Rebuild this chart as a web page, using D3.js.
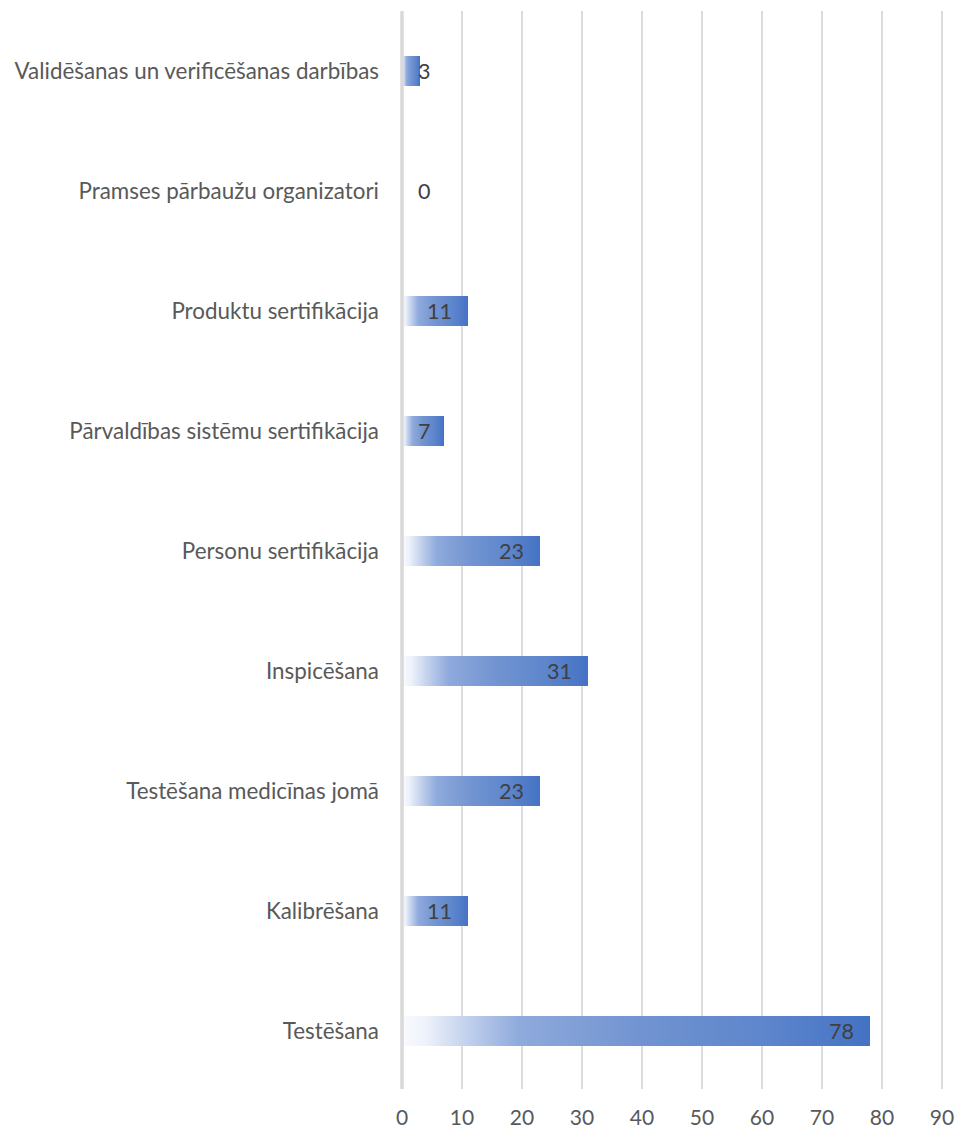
<!DOCTYPE html>
<html>
<head>
<meta charset="utf-8">
<script src="https://cdn.jsdelivr.net/npm/d3@7"></script>
<style>
  body { margin: 0; background: #fff; }
  text { font-family: Lato, "Open Sans", sans-serif; }
</style>
</head>
<body>
<div id="chart"></div>
<script>

var categories = [
	"Validēšanas un verificēšanas darbības",
	"Pramses pārbaužu organizatori",
	"Produktu sertifikācija",
	"Pārvaldības sistēmu sertifikācija",
	"Personu sertifikācija",
	"Inspicēšana",
	"Testēšana medicīnas jomā",
	"Kalibrēšana",
	"Testēšana"
];
var values = [3, 0, 11, 7, 23, 31, 23, 11, 78];
var xTicks = [0, 10, 20, 30, 40, 50, 60, 70, 80, 90];

var width = 957, height = 1131;
var plotLeft = 402, plotRight = 942, plotTop = 11, plotBottom = 1091;

var svg = d3.select("#chart").append("svg")
	.attr("width", width).attr("height", height);

// gradient like excel's linear fill, light on the left
var grad = svg.append("defs").append("linearGradient")
	.attr("id", "barGrad")
	.attr("x1", "0").attr("x2", "1").attr("y1", "0").attr("y2", "0");
grad.selectAll("stop")
	.data([[0, "#f8fafd"], [0.05, "#eef2fa"], [0.13, "#c6d4ee"], [0.25, "#8faadc"], [0.5, "#7294d1"], [0.77, "#5e86cc"], [1, "#4472c4"]])
	.enter().append("stop")
	.attr("offset", function(d) { return d[0]; })
	.attr("stop-color", function(d) { return d[1]; });

var x = d3.scaleLinear().domain([0, 90]).range([plotLeft, plotRight]);
var y = d3.scaleBand().domain(categories).range([plotTop, plotBottom])
	.paddingInner(0.75).paddingOuter(0.375);

// grid
svg.append("g").selectAll("line")
	.data(xTicks.slice(1)).enter().append("line")
	.attr("x1", function(d) { return x(d); })
	.attr("x2", function(d) { return x(d); })
	.attr("y1", plotTop).attr("y2", plotBottom - 2)
	.attr("stroke", "#d4d4d4").attr("stroke-width", 1.6);

// bars
svg.append("g").selectAll("rect")
	.data(values).enter().append("rect")
	.attr("x", x(0))
	.attr("y", function(d, i) { return y(categories[i]); })
	.attr("width", function(d) { return x(d) - x(0); })
	.attr("height", y.bandwidth())
	.attr("fill", "url(#barGrad)");

// value axis line at zero
svg.append("line")
	.attr("x1", x(0)).attr("x2", x(0))
	.attr("y1", plotTop).attr("y2", plotBottom - 2)
	.attr("stroke", "#d9d9d9").attr("stroke-width", 3.5);

// x tick labels
svg.append("g").selectAll("text")
	.data(xTicks).enter().append("text")
	.attr("x", function(d) { return x(d); })
	.attr("y", 1125)
	.attr("text-anchor", "middle")
	.attr("font-size", 21)
	.attr("fill", "#595959")
	.text(function(d) { return d; });

// category labels
svg.append("g").selectAll("text")
	.data(categories).enter().append("text")
	.attr("x", 379)
	.attr("y", function(d) { return y(d) + y.bandwidth() / 2; })
	.attr("dy", "0.36em")
	.attr("text-anchor", "end")
	.attr("font-size", 22.4)
	.attr("fill", "#595959")
	.text(function(d) { return d; });

// data labels, inside end but never past the axis
svg.append("g").selectAll("text")
	.data(values).enter().append("text")
	.attr("y", function(d, i) { return y(categories[i]) + y.bandwidth() / 2; })
	.attr("dy", "0.36em")
	.attr("text-anchor", "end")
	.attr("font-size", 21.5)
	.attr("fill", "#404040")
	.text(function(d) { return d; })
	.attr("x", function(d) {
		var w = this.getComputedTextLength();
		return Math.max(x(d) - 16, x(0) + 16 + w);
	});

</script>
</body>
</html>
